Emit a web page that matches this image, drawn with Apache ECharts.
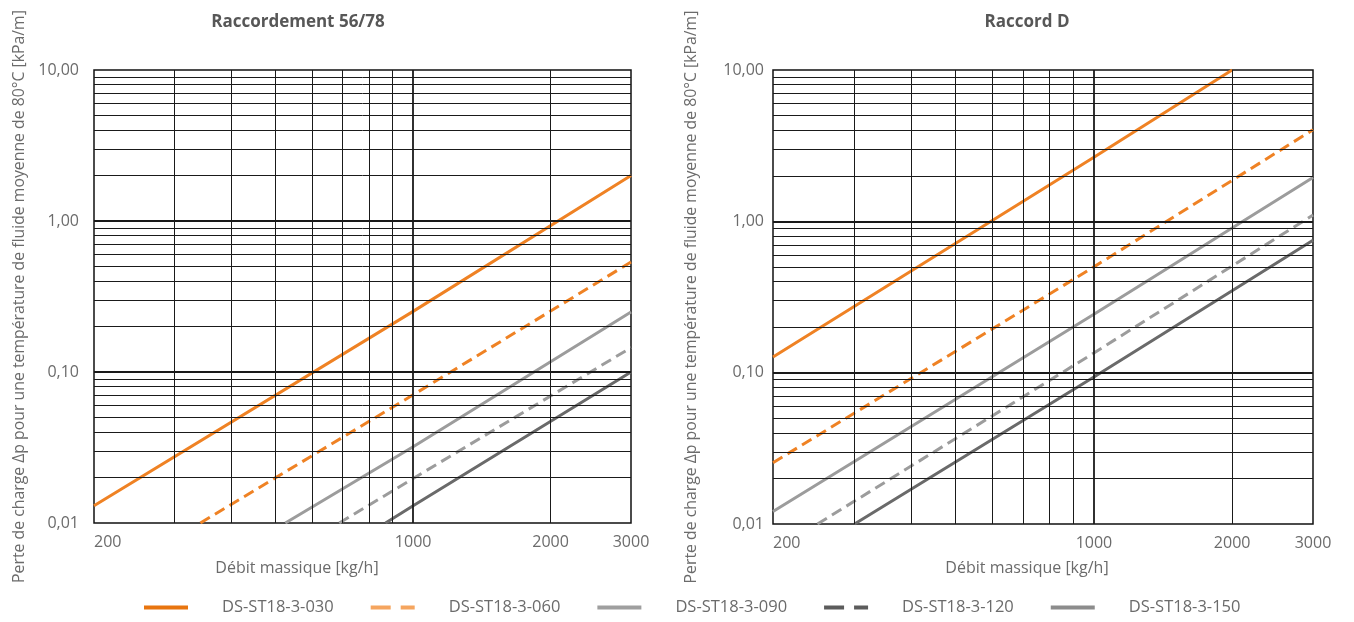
<!DOCTYPE html>
<html>
<head>
<meta charset="utf-8">
<script src="https://cdn.jsdelivr.net/npm/echarts@6/dist/echarts.min.js"></script>
<style>
html,body{margin:0;padding:0;background:#fff;}
#chart{width:1354px;height:622px;}
</style>
</head>
<body>
<div id="chart"></div>
<script>
// ---------- DATA ----------
const chartTitles = ['Raccordement 56/78', 'Raccord D'];
const xAxisName = 'Débit massique [kg/h]';
const yAxisName = 'Perte de charge Δp pour une température de fluide moyenne de 80°C [kPa/m]';
const seriesNames = ['DS-ST18-3-030', 'DS-ST18-3-060', 'DS-ST18-3-090', 'DS-ST18-3-120', 'DS-ST18-3-150'];

const flowTickValues = [200, 1000, 2000, 3000];
const pressureTickValues = [0.01, 0.1, 1, 10];
const flowGridValues = [300, 400, 500, 600, 700, 800, 900, 1000, 2000];
const flowMajorGrid = [1000];
const pressureGridValues = [0.02, 0.03, 0.04, 0.05, 0.06, 0.07, 0.08, 0.09, 0.1,
                            0.2, 0.3, 0.4, 0.5, 0.6, 0.7, 0.8, 0.9, 1,
                            2, 3, 4, 5, 6, 7, 8, 9];
const pressureMajorGrid = [0.1, 1];

// Raccordement 56/78 : [débit kg/h, Δp kPa/m]
const r5678_030 = [[200, 0.013], [1000, 0.252], [3000, 2.0]];
const r5678_060 = [[342, 0.01], [1000, 0.0706], [3000, 0.535]];
const r5678_090 = [[525, 0.01], [1000, 0.032], [3000, 0.25]];
const r5678_120 = [[689, 0.01], [1000, 0.0197], [3000, 0.145]];
const r5678_150 = [[870, 0.01], [1000, 0.013], [3000, 0.1]];

// Raccord D
const rD_030 = [[200, 0.127], [1000, 2.65], [2000, 10]];
const rD_060 = [[200, 0.0254], [1000, 0.5], [3000, 4.03]];
const rD_090 = [[200, 0.0121], [1000, 0.243], [3000, 1.95]];
const rD_120 = [[250, 0.01], [1000, 0.135], [3000, 1.1]];
const rD_150 = [[301, 0.01], [1000, 0.0937], [3000, 0.751]];

// ---------- STYLE ----------
const FONT = 'Open Sans';
const TXT = '#6b6b6b';
const lineColors = ['#EF8224', '#EF8224', '#9c9c9c', '#9c9c9c', '#6a6a6a'];
const lineTypes = ['solid', [11, 6], 'solid', [11, 6], 'solid'];
const legendColors = ['#E8750F', '#F5A55F', '#9f9f9f', '#5c5c5c', '#8c8c8c'];
const legendTypes = ['solid', [20, 10], 'solid', [20, 10], 'solid'];

const leftData = [r5678_030, r5678_060, r5678_090, r5678_120, r5678_150];
const rightData = [rD_030, rD_060, rD_090, rD_120, rD_150];

const fmtP = v => Number(v).toFixed(2).replace('.', ',');

function gridMarkLines() {
  const d = [];
  flowGridValues.forEach(v => d.push({xAxis: v, lineStyle: {width: flowMajorGrid.includes(v) ? 1.8 : 1}}));
  pressureGridValues.forEach(v => d.push({yAxis: v, lineStyle: {width: pressureMajorGrid.includes(v) ? 1.8 : 1}}));
  return d;
}

function helperSeries(i) {
  return {
    type: 'line', xAxisIndex: i, yAxisIndex: i, data: [], silent: true, z: 1,
    markLine: {
      symbol: ['none', 'none'], silent: true, animation: false,
      label: {show: false},
      lineStyle: {color: '#1a1a1a', width: 1, type: 'solid'},
      emphasis: {disabled: true},
      data: gridMarkLines()
    }
  };
}

function dataSeries(i, arr) {
  return arr.map((d, k) => ({
    name: seriesNames[k], type: 'line', xAxisIndex: i, yAxisIndex: i,
    data: d, showSymbol: false, symbol: 'none', clip: true, z: 3,
    lineStyle: {color: lineColors[k], width: 3, type: lineTypes[k]},
    itemStyle: {color: lineColors[k]},
    emphasis: {disabled: true}
  }));
}

function xAxisCfg(i) {
  return {
    gridIndex: i, type: 'log', logBase: 10, min: 200, max: 3000,
    axisLine: {show: false}, axisTick: {show: false}, splitLine: {show: false},
    axisLabel: {
      customValues: flowTickValues, alignMinLabel: 'left', margin: 11,
      color: TXT, fontFamily: FONT, fontSize: 16,
      formatter: v => String(Math.round(v))
    }
  };
}

function yAxisCfg(i, margin, gap) {
  return {
    gridIndex: i, type: 'log', logBase: 10, min: 0.01, max: 10,
    axisLine: {show: false}, axisTick: {show: false}, splitLine: {show: false},
    axisLabel: {
      customValues: pressureTickValues, margin: margin,
      color: TXT, fontFamily: FONT, fontSize: 16, formatter: fmtP
    },
    name: yAxisName, nameLocation: 'middle', nameGap: gap,
    nameTextStyle: {color: TXT, fontFamily: FONT, fontSize: 15.8}
  };
}

const chart = echarts.init(document.getElementById('chart'), null, {renderer: 'canvas'});
chart.setOption({
  animation: false,
  backgroundColor: '#fff',
  grid: [
    {left: 94, top: 70, width: 537, height: 453, show: true, borderColor: '#111', borderWidth: 1.5, backgroundColor: 'transparent'},
    {left: 773, top: 70, width: 540, height: 454, show: true, borderColor: '#111', borderWidth: 1.5, backgroundColor: 'transparent'}
  ],
  xAxis: [xAxisCfg(0), xAxisCfg(1)],
  yAxis: [yAxisCfg(0, 15, 67), yAxisCfg(1, 9, 74)],
  legend: {
    left: 142, top: 599, padding: 0, itemWidth: 44, itemHeight: 14, itemGap: 35,
    data: seriesNames.map((n, k) => ({
      name: n,
      lineStyle: {color: legendColors[k], width: 4, type: legendTypes[k]},
      itemStyle: {color: legendColors[k], opacity: 0}
    })),
    textStyle: {color: TXT, fontFamily: FONT, fontSize: 16.5, padding: [0, 0, 0, 29]},
    selectedMode: false
  },
  graphic: [
    {type: 'text', x: 298, y: 22, style: {text: chartTitles[0], fill: '#575757', font: 'bold 17px "' + FONT + '"', textAlign: 'center', textVerticalAlign: 'middle'}},
    {type: 'text', x: 1027, y: 22, style: {text: chartTitles[1], fill: '#575757', font: 'bold 17px "' + FONT + '"', textAlign: 'center', textVerticalAlign: 'middle'}},
    {type: 'text', x: 297, y: 568, style: {text: xAxisName, fill: TXT, font: '16px "' + FONT + '"', textAlign: 'center', textVerticalAlign: 'middle'}},
    {type: 'text', x: 1027, y: 568, style: {text: xAxisName, fill: TXT, font: '16px "' + FONT + '"', textAlign: 'center', textVerticalAlign: 'middle'}}
  ],
  series: [helperSeries(0), helperSeries(1)].concat(dataSeries(0, leftData), dataSeries(1, rightData))
});
</script>
</body>
</html>
